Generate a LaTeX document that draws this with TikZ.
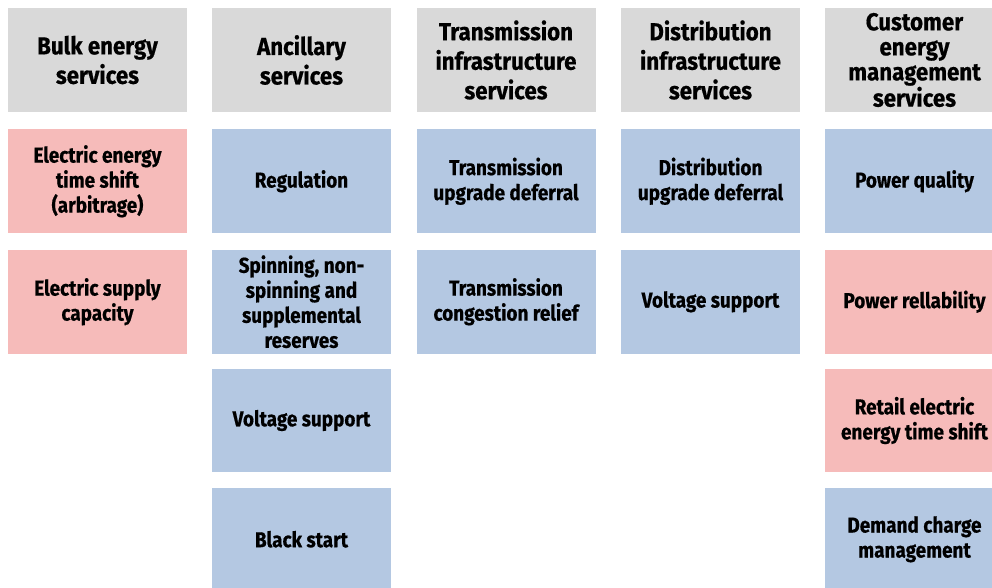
\documentclass[tikz,border=0pt]{standalone}
\usepackage{fontspec}
\setmainfont{Fira Sans}[FakeStretch=0.88,BoldFeatures={FakeBold=0.6}]
\newfontfamily\hdrfont{Fira Sans}[FakeStretch=0.91,BoldFeatures={FakeBold=0.6}]
\definecolor{hdr}{RGB}{217,217,217}
\definecolor{blu}{RGB}{180,200,226}
\definecolor{pnk}{RGB}{246,187,186}
\begin{document}
\begin{tikzpicture}[x=1pt,y=-1pt,
  cell/.style={minimum width=179pt,inner sep=0pt,align=center,text=black,anchor=center},
  hbox/.style={cell,fill=hdr,minimum height=104pt,font=\hdrfont\bfseries\fontsize{24.5}{29.5}\selectfont},
  bbox/.style={cell,fill=blu,minimum height=103.5pt,font=\bfseries\fontsize{21.5}{25}\selectfont},
  pbox/.style={cell,fill=pnk,minimum height=103.5pt,font=\bfseries\fontsize{21.5}{25}\selectfont}]
\useasboundingbox (0,0) rectangle (992,588);
\clip (0,0) rectangle (992,588);
% headers
\node[hbox] (h1) at (97.5,60) {Bulk energy\\services};
\node[hbox] (h2) at (301.5,60) {Ancillary\\services};
\node[hbox] (h3) at (506,60) {Transmission\\infrastructure\\services};
\node[hbox] (h4) at (710.5,60) {Distribution\\infrastructure\\services};
\node[hbox,font=\hdrfont\bfseries\fontsize{24.5}{25}\selectfont] (h5) at (914.5,60) {Customer\\energy\\management\\services};
% column 1
\node[pbox] (a1) at (97.5,181.25) {Electric energy\\time shift\\(arbitrage)};
\node[pbox] (a2) at (97.5,301.75) {Electric supply\\capacity};
% column 2
\node[bbox] (b1) at (301.5,181.25) {Regulation};
\node[bbox] (b2) at (301.5,301.75) {Spinning, non-\\spinning and\\supplemental\\reserves};
\node[bbox] (b3) at (301.5,420.5) {Voltage support};
\node[bbox] (b4) at (301.5,539.25) {Black start};
% column 3
\node[bbox] (c1) at (506,181.25) {Transmission\\upgrade deferral};
\node[bbox] (c2) at (506,301.75) {Transmission\\congestion relief};
% column 4
\node[bbox] (d1) at (710.5,181.25) {Distribution\\upgrade deferral};
\node[bbox] (d2) at (710.5,301.75) {Voltage support};
% column 5
\node[bbox] (e1) at (914.5,181.25) {Power quality};
\node[pbox] (e2) at (914.5,301.75) {Power rellability};
\node[pbox] (e3) at (914.5,420.5) {Retail electric\\energy time shift};
\node[bbox] (e4) at (914.5,539.25) {Demand charge\\management};
\end{tikzpicture}
\end{document}
